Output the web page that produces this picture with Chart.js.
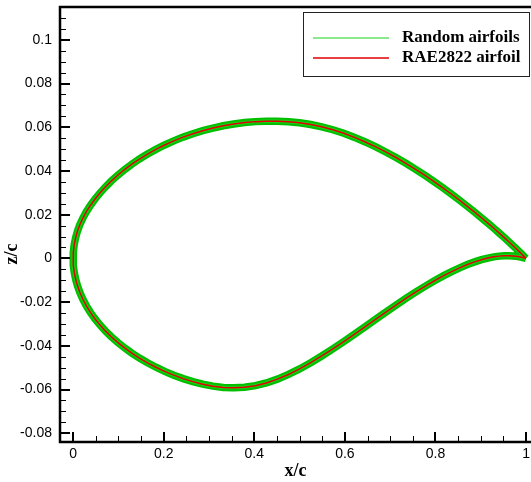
<!DOCTYPE html>
<html>
<head>
<meta charset="utf-8">
<script src="https://cdn.jsdelivr.net/npm/chart.js@4.4.1/dist/chart.umd.min.js"></script>
<style>
  html, body { margin: 0; padding: 0; background: #fff; }
  #wrap { width: 531px; height: 482px; }
</style>
</head>
<body>
<div id="wrap"><canvas id="grafico" width="531" height="482"></canvas></div>
<script>
// RAE2822 stations (x/c), shared by upper and lower surfaces
const xs = [0, 0.000602, 0.002408, 0.005412, 0.009607, 0.014984, 0.021530, 0.029228, 0.038060, 0.048005,
  0.059039, 0.071136, 0.084265, 0.098396, 0.113495, 0.129524, 0.146447, 0.164221, 0.182803, 0.202150,
  0.222215, 0.242949, 0.264302, 0.286222, 0.308658, 0.331555, 0.354858, 0.378510, 0.402455, 0.426635,
  0.450991, 0.475466, 0.500000, 0.524534, 0.549009, 0.573365, 0.597545, 0.621490, 0.645142, 0.668445,
  0.691342, 0.713778, 0.735698, 0.757051, 0.777785, 0.797850, 0.817197, 0.835779, 0.853553, 0.870476,
  0.886505, 0.901604, 0.915735, 0.928864, 0.940961, 0.951995, 0.961940, 0.970772, 0.978470, 0.985016,
  0.990393, 0.994588, 0.997592, 0.999398, 1.0];

const zUpper = [0, 0.003165, 0.006306, 0.009416, 0.012480, 0.015489, 0.018441, 0.021348, 0.024219, 0.027062,
  0.029874, 0.032644, 0.035360, 0.038011, 0.040585, 0.043071, 0.045457, 0.047729, 0.049874, 0.051885,
  0.053753, 0.055470, 0.057026, 0.058414, 0.059629, 0.060660, 0.061497, 0.062133, 0.062562, 0.062779,
  0.062774, 0.062530, 0.062029, 0.061254, 0.060194, 0.058845, 0.057218, 0.055344, 0.053258, 0.050993,
  0.048575, 0.046029, 0.043377, 0.040641, 0.037847, 0.035017, 0.032176, 0.029347, 0.026554, 0.023817,
  0.021153, 0.018580, 0.016113, 0.013769, 0.011562, 0.009508, 0.007622, 0.005915, 0.004401, 0.003092,
  0.002001, 0.001137, 0.000510, 0.000128, 0];

const zLower = [0, -0.003160, -0.006308, -0.009443, -0.012559, -0.015649, -0.018707, -0.021722, -0.024685, -0.027586,
  -0.030416, -0.033170, -0.035843, -0.038431, -0.040929, -0.043326, -0.045610, -0.047773, -0.049805, -0.051694,
  -0.053427, -0.054994, -0.056376, -0.057547, -0.058459, -0.059046, -0.059236, -0.058974, -0.058224, -0.056979,
  -0.055257, -0.053099, -0.050563, -0.047719, -0.044642, -0.041397, -0.038043, -0.034631, -0.031207, -0.027814,
  -0.024495, -0.021289, -0.018232, -0.015357, -0.012690, -0.010244, -0.008027, -0.006048, -0.004314, -0.002829,
  -0.001592, -0.000600, 0.000157, 0.000694, 0.001033, 0.001197, 0.001212, 0.001112, 0.000935, 0.000719,
  0.000497, 0.000296, 0.000137, 0.000035, 0];

const xMajor = [0, 0.2, 0.4, 0.6, 0.8, 1];
const xMinor = [0.05, 0.1, 0.15, 0.25, 0.3, 0.35, 0.45, 0.5, 0.55, 0.65, 0.7, 0.75, 0.85, 0.9, 0.95];
const zMajor = [-0.08, -0.06, -0.04, -0.02, 0, 0.02, 0.04, 0.06, 0.08, 0.1];
const zMinor = [-0.075, -0.07, -0.065, -0.055, -0.05, -0.045, -0.035, -0.03, -0.025, -0.015, -0.01, -0.005,
  0.005, 0.01, 0.015, 0.025, 0.03, 0.035, 0.045, 0.05, 0.055, 0.065, 0.07, 0.075, 0.085, 0.09, 0.095,
  0.105, 0.11];

const legendas = ['Random airfoils', 'RAE2822 airfoil'];
const coresLegenda = ['#66e066', '#e00000'];

// contour: trailing edge -> leading edge along upper, then back along lower
function contorno() {
  const pts = [];
  for (let i = xs.length - 1; i >= 0; i--) pts.push({ x: xs[i], y: zUpper[i] });
  for (let i = 1; i < xs.length; i++) pts.push({ x: xs[i], y: zLower[i] });
  return pts;
}

const fmt = v => String(Number(v.toFixed(3)));
const fonteTicks = '14px "Liberation Sans", Arial, sans-serif';

const eixosPlugin = {
  id: 'eixos',
  afterDraw(chart) {
    const { ctx, chartArea: a, scales } = chart;
    const sx = scales.x, sy = scales.y;
    ctx.save();
    ctx.strokeStyle = '#000';
    // inward ticks
    ctx.lineWidth = 1;
    ctx.beginPath();
    xMinor.forEach(v => { const p = Math.round(sx.getPixelForValue(v)) + 0.5; ctx.moveTo(p, a.bottom); ctx.lineTo(p, a.bottom - 6); });
    zMinor.forEach(v => { const p = Math.round(sy.getPixelForValue(v)) + 0.5; ctx.moveTo(a.left, p); ctx.lineTo(a.left + 6, p); });
    ctx.stroke();
    ctx.lineWidth = 2;
    ctx.beginPath();
    xMajor.forEach(v => { const p = Math.round(sx.getPixelForValue(v)); ctx.moveTo(p, a.bottom); ctx.lineTo(p, a.bottom - 10); });
    zMajor.forEach(v => { const p = Math.round(sy.getPixelForValue(v)); ctx.moveTo(a.left, p); ctx.lineTo(a.left + 10, p); });
    ctx.stroke();
    // frame
    ctx.lineWidth = 2.5;
    ctx.beginPath();
    ctx.moveTo(a.right, a.top); ctx.lineTo(a.left, a.top); ctx.lineTo(a.left, a.bottom); ctx.lineTo(a.right, a.bottom);
    ctx.stroke();

    // tick labels
    ctx.fillStyle = '#000';
    ctx.font = fonteTicks;
    ctx.textAlign = 'center';
    ctx.textBaseline = 'middle';
    xMajor.forEach(v => ctx.fillText(fmt(v), sx.getPixelForValue(v), 454));
    ctx.textAlign = 'right';
    zMajor.forEach(v => ctx.fillText(fmt(v), 52, sy.getPixelForValue(v)));

    // axis titles
    ctx.font = 'bold 18px "Liberation Serif", "Times New Roman", serif';
    ctx.textAlign = 'center';
    ctx.fillText('x/c', (a.left + a.right) / 2, 471);
    ctx.save();
    ctx.translate(12, 254);
    ctx.rotate(-Math.PI / 2);
    ctx.fillText('z/c', 0, 0);
    ctx.restore();

    // legend box
    ctx.fillStyle = '#fff';
    ctx.fillRect(303, 12, 226, 64);
    ctx.lineWidth = 1;
    ctx.strokeStyle = '#222';
    ctx.strokeRect(303.5, 12.5, 226, 64);
    ctx.font = 'bold 17px "Liberation Serif", "Times New Roman", serif';
    ctx.textAlign = 'left';
    const ys = [38, 58];
    legendas.forEach((t, i) => {
      ctx.strokeStyle = coresLegenda[i];
      ctx.lineWidth = 1.5;
      ctx.beginPath();
      ctx.moveTo(313, ys[i]); ctx.lineTo(389, ys[i]);
      ctx.stroke();
      ctx.fillStyle = '#000';
      ctx.fillText(t, 402, ys[i]);
    });
    ctx.restore();
  }
};

new Chart(document.getElementById('grafico').getContext('2d'), {
  type: 'scatter',
  data: {
    datasets: [
      { label: legendas[1], data: contorno(), showLine: true, borderColor: '#e00000', borderWidth: 1.5, pointRadius: 0, tension: 0, order: 0 },
      { label: legendas[0], data: contorno(), showLine: true, borderColor: '#18d018', borderWidth: 3.5, pointRadius: 0, tension: 0, order: 1 },
      { label: legendas[0], data: contorno(), showLine: true, borderColor: '#00bf00', borderWidth: 7.5, pointRadius: 0, tension: 0, order: 2 }
    ]
  },
  options: {
    responsive: false,
    animation: false,
    layout: { padding: { top: 7, right: 0, left: 0, bottom: 0 } },
    plugins: { legend: { display: false }, tooltip: { enabled: false } },
    scales: {
      x: {
        type: 'linear', min: -0.029, max: 1.011,
        grid: { display: false, drawTicks: false },
        border: { display: false },
        afterBuildTicks: s => { s.ticks = xMajor.map(v => ({ value: v })); },
        afterFit: s => { s.height = 40; },
        ticks: { display: false }
      },
      y: {
        type: 'linear', min: -0.084, max: 0.115,
        grid: { display: false, drawTicks: false },
        border: { display: false },
        afterBuildTicks: s => { s.ticks = zMajor.map(v => ({ value: v })); },
        afterFit: s => { s.width = 60; },
        ticks: { display: false }
      }
    }
  },
  plugins: [eixosPlugin]
});
</script>
</body>
</html>
